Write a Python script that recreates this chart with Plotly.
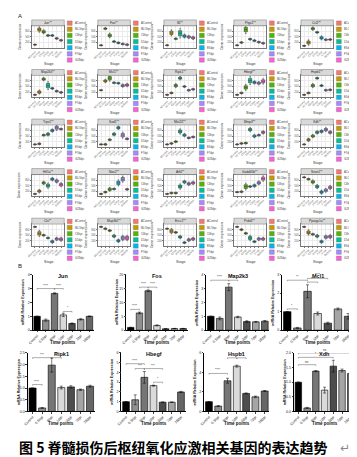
import plotly.graph_objects as go

# ---------------- data ----------------
stages = ["AControl", "B0.5hpi", "C6hpi", "D1dpi", "E3dpi", "F7dpi", "G28dpi"]
stage_colors = ["#F8766D", "#C49A00", "#53B400", "#00C094", "#00B6EB", "#A58AFF", "#FB61D7"]

genes_a = ["Jun**", "Fos**", "Il6**", "Ptgs2**", "Ccl2**",
           "Map2k3**", "Mcl1**", "Ripk1**", "Hbegf**", "Hspb1**",
           "Trpv1**", "Sod1**", "Nfe2l2**", "Mmp3**", "Xdh**",
           "Hif1a**", "Nos2**", "Atf4**", "Gadd45b**", "Sesn1**",
           "Clu**", "Map3k5**", "Ercc2**", "Prdx6**", "Ppargc1a**"]

med_a = [
    [0.08, 0.90, 0.78, 0.58, 0.58, 0.42, 0.32],
    [0.05, 0.95, 0.58, 0.25, 0.18, 0.12, 0.08],
    [0.05, 0.72, 0.40, 0.70, 0.55, 0.50, 0.45],
    [0.05, 0.20, 0.90, 0.38, 0.30, 0.22, 0.16],
    [0.02, 0.20, 0.95, 0.75, 0.45, 0.35, 0.36],
    [0.05, 0.20, 0.90, 0.55, 0.40, 0.25, 0.18],
    [0.30, 0.80, 0.95, 0.70, 0.68, 0.55, 0.58],
    [0.05, 0.15, 0.55, 0.95, 0.50, 0.30, 0.35],
    [0.05, 0.15, 0.45, 0.82, 0.72, 0.68, 0.78],
    [0.05, 0.15, 0.55, 0.95, 0.55, 0.30, 0.32],
    [0.05, 0.08, 0.55, 0.60, 0.80, 0.95, 0.88],
    [0.05, 0.05, 0.30, 0.60, 0.95, 0.55, 0.35],
    [0.05, 0.10, 0.20, 0.75, 0.55, 0.40, 0.45],
    [0.05, 0.10, 0.12, 0.85, 0.50, 0.55, 0.70],
    [0.05, 0.30, 0.50, 0.70, 0.75, 0.85, 0.70],
    [0.05, 0.20, 0.65, 0.50, 0.85, 0.75, 0.55],
    [0.05, 0.15, 0.30, 0.32, 0.65, 0.85, 0.30],
    [0.05, 0.10, 0.10, 0.45, 0.70, 0.60, 0.65],
    [0.15, 0.17, 0.45, 0.45, 0.50, 0.65, 0.88],
    [0.95, 0.85, 0.70, 0.45, 0.15, 0.25, 0.40],
    [0.95, 0.60, 0.50, 0.35, 0.15, 0.30, 0.28],
    [0.95, 0.85, 0.75, 0.45, 0.20, 0.35, 0.35],
    [0.85, 0.72, 0.65, 0.40, 0.10, 0.25, 0.30],
    [0.95, 0.80, 0.60, 0.35, 0.15, 0.30, 0.30],
    [0.95, 0.65, 0.55, 0.45, 0.15, 0.40, 0.42],
]
iqr_a = [
    [0.02, 0.08, 0.06, 0.03, 0.03, 0.03, 0.03],
    [0.02, 0.03, 0.07, 0.03, 0.03, 0.03, 0.03],
    [0.02, 0.09, 0.03, 0.14, 0.06, 0.05, 0.05],
    [0.02, 0.03, 0.12, 0.03, 0.03, 0.03, 0.03],
    [0.02, 0.08, 0.05, 0.03, 0.06, 0.03, 0.03],
    [0.02, 0.06, 0.05, 0.12, 0.03, 0.03, 0.03],
    [0.02, 0.05, 0.09, 0.03, 0.03, 0.05, 0.05],
    [0.02, 0.03, 0.06, 0.05, 0.03, 0.03, 0.03],
    [0.02, 0.03, 0.09, 0.12, 0.05, 0.05, 0.08],
    [0.02, 0.03, 0.06, 0.03, 0.03, 0.03, 0.03],
    [0.02, 0.03, 0.03, 0.05, 0.05, 0.08, 0.03],
    [0.02, 0.03, 0.03, 0.05, 0.05, 0.09, 0.03],
    [0.02, 0.03, 0.03, 0.08, 0.05, 0.03, 0.03],
    [0.02, 0.03, 0.03, 0.06, 0.05, 0.03, 0.05],
    [0.02, 0.05, 0.05, 0.05, 0.05, 0.06, 0.05],
    [0.02, 0.05, 0.05, 0.08, 0.05, 0.06, 0.06],
    [0.02, 0.03, 0.06, 0.03, 0.09, 0.09, 0.03],
    [0.02, 0.03, 0.03, 0.08, 0.05, 0.05, 0.05],
    [0.02, 0.03, 0.10, 0.03, 0.05, 0.06, 0.08],
    [0.02, 0.03, 0.06, 0.06, 0.06, 0.06, 0.06],
    [0.02, 0.09, 0.03, 0.03, 0.05, 0.05, 0.06],
    [0.02, 0.03, 0.03, 0.05, 0.05, 0.08, 0.08],
    [0.02, 0.08, 0.03, 0.05, 0.03, 0.05, 0.05],
    [0.02, 0.03, 0.03, 0.08, 0.03, 0.05, 0.05],
    [0.02, 0.08, 0.03, 0.05, 0.05, 0.06, 0.06],
]

time_points = ["Control", "0.5hpi", "6hpi", "1dpi", "3dpi", "7dpi", "28dpi"]
bar_colors = ["#000000", "#8f8f8f", "#767676", "#dadada", "#4d4d4d", "#a5a5a5", "#666666"]
genes_b = ["Jun", "Fos", "Map2k3", "Mcl1", "Ripk1", "Hbegf", "Hspb1", "Xdh"]
vals_b = [
    [1.0, 0.72, 2.65, 1.10, 0.48, 0.78, 1.00],
    [1.0, 6.20, 14.2, 1.70, 0.50, 0.60, 0.60],
    [1.0, 0.85, 3.10, 0.95, 0.62, 0.60, 0.65],
    [1.0, 0.12, 2.10, 0.90, 0.38, 1.15, 0.75],
    [1.0, 0.15, 1.98, 1.02, 1.05, 0.93, 1.08],
    [1.0, 1.20, 3.50, 2.65, 0.95, 0.95, 2.00],
    [1.0, 0.55, 3.15, 4.65, 1.85, 1.50, 2.10],
    [1.0, 0.12, 1.38, 0.73, 1.55, 1.40, 1.30],
]
errs_b = [
    [0.0, 0.08, 0.04, 0.12, 0.04, 0.05, 0.02],
    [0.0, 0.30, 0.30, 0.20, 0.05, 0.05, 0.05],
    [0.0, 0.10, 0.25, 0.05, 0.06, 0.03, 0.05],
    [0.0, 0.03, 0.35, 0.08, 0.05, 0.05, 0.15],
    [0.0, 0.02, 0.30, 0.06, 0.05, 0.03, 0.04],
    [0.0, 0.50, 0.60, 0.05, 0.03, 0.03, 0.06],
    [0.0, 0.05, 0.25, 0.10, 0.05, 0.08, 0.05],
    [0.0, 0.02, 0.02, 0.10, 0.20, 0.05, 0.12],
]
ymax_b = [4, 20, 4, 3, 2.5, 6, 6, 2.0]
dtick_b = [1, 5, 1, 1, 0.5, 1, 2, 0.5]
# significance brackets: (from index, to index, height, label)
sig_b = [
    [(0, 2, 3.0, "****"), (2, 3, 3.0, "****"), (3, 4, 1.35, "*")],
    [(0, 1, 7.5, "****"), (1, 2, 15.5, "****"), (2, 3, 15.5, "****")],
    [(0, 2, 3.6, "****"), (2, 3, 3.6, "****")],
    [(0, 1, 1.15, "*"), (0, 2, 2.7, "**"), (2, 3, 2.6, "**"), (2, 4, 2.8, "****")],
    [(0, 1, 1.15, "****"), (0, 2, 2.3, "***"), (2, 3, 2.3, "**")],
    [(0, 2, 4.9, "****"), (1, 2, 4.4, "***"), (2, 4, 4.4, "***"), (3, 4, 3.0, "*")],
    [(0, 2, 3.9, "****"), (2, 3, 5.5, "**"), (3, 4, 5.5, "****")],
    [(0, 6, 2.0, "ns"), (0, 4, 1.85, "*"), (0, 2, 1.6, "ns")],
]

# ---------------- geometry ----------------
W, H = 357, 457


def px(x):
    return x / W


def py(y):
    return 1 - y / H


FONT = "Liberation Sans"
fig = go.Figure()
layout = {}
shapes = []
annotations = []

col_x = [19, 86, 153, 224, 292]
row_y = [10, 60, 110, 160, 210]
pw = 33
n = 0
for r in range(5):
    for c in range(5):
        k = r * 5 + c
        n += 1
        sfx = "" if n == 1 else str(n)
        x0 = col_x[c]
        x1 = x0 + pw
        st = row_y[r]
        y_top = st + 6
        y_bot = st + 28
        for s in range(7):
            m = med_a[k][s]
            q = iqr_a[k][s]
            fig.add_trace(go.Box(
                x=[stages[s]], q1=[m - q], median=[m], q3=[m + q],
                lowerfence=[m - 1.8 * q], upperfence=[m + 1.8 * q],
                xaxis="x" + sfx, yaxis="y" + sfx, fillcolor=stage_colors[s],
                line=dict(color="#333333", width=0.5), width=0.75,
                showlegend=False, boxpoints=False, hoverinfo="skip"))
        layout["xaxis" + sfx] = dict(
            domain=[px(x0), px(x1)], anchor="y" + sfx, type="category",
            categoryorder="array", categoryarray=stages,
            tickangle=-45, tickfont=dict(size=2.6, color="#555"),
            showgrid=True, gridcolor="#EBEBEB", gridwidth=0.5,
            showline=True, linecolor="#777", linewidth=0.5, mirror=True,
            ticks="outside", ticklen=1, tickcolor="#777", zeroline=False,
            fixedrange=True)
        layout["yaxis" + sfx] = dict(
            domain=[py(y_bot), py(y_top)], anchor="x" + sfx, range=[-0.08, 1.1],
            tickvals=[0.2, 0.5, 0.8], ticktext=["200", "500", "800"],
            tickfont=dict(size=2.6, color="#555"),
            showgrid=True, gridcolor="#EBEBEB", gridwidth=0.5,
            showline=True, linecolor="#777", linewidth=0.5, mirror=True,
            ticks="outside", ticklen=1, tickcolor="#777", zeroline=False,
            fixedrange=True)
        # strip
        shapes.append(dict(type="rect", xref="paper", yref="paper",
                           x0=px(x0), x1=px(x1), y0=py(st + 6), y1=py(st),
                           fillcolor="#D9D9D9", line=dict(color="#555", width=0.4)))
        annotations.append(dict(text=genes_a[k], xref="paper", yref="paper",
                                x=px((x0 + x1) / 2), y=py(st + 3), showarrow=False,
                                font=dict(size=3.2, color="#222", family=FONT),
                                xanchor="center", yanchor="middle"))
        # legend
        for s in range(7):
            ly = st + 1 + 6.2 * s
            shapes.append(dict(type="rect", xref="paper", yref="paper",
                               x0=px(x1 + 3), x1=px(x1 + 8), y0=py(ly + 4.5), y1=py(ly),
                               fillcolor=stage_colors[s], line=dict(color="#666", width=0.3)))
            annotations.append(dict(text=stages[s], xref="paper", yref="paper",
                                    x=px(x1 + 9), y=py(ly + 2.3), showarrow=False,
                                    font=dict(size=2.8, color="#444", family=FONT),
                                    xanchor="left", yanchor="middle"))
        annotations.append(dict(text="Stage", xref="paper", yref="paper",
                                x=px((x0 + x1) / 2), y=py(st + 44), showarrow=False,
                                font=dict(size=3.6, color="#333", family=FONT),
                                xanchor="center", yanchor="middle"))
        annotations.append(dict(text="Gene expression", xref="paper", yref="paper",
                                x=px(x0 - 12), y=py((y_top + y_bot) / 2), showarrow=False,
                                textangle=-90,
                                font=dict(size=3.4, color="#333", family=FONT),
                                xanchor="center", yanchor="middle"))

annotations.append(dict(text="A", xref="paper", yref="paper", x=px(3), y=py(6),
                        showarrow=False, font=dict(size=6, color="#222", family=FONT),
                        xanchor="left", yanchor="middle"))
annotations.append(dict(text="B", xref="paper", yref="paper", x=px(3), y=py(258),
                        showarrow=False, font=dict(size=6, color="#222", family=FONT),
                        xanchor="left", yanchor="middle"))

# ---------------- panel B ----------------
b_x = [(20, 82), (115, 177), (196, 260), (273, 345),
       (15, 83), (110, 175), (194, 260), (285, 347)]
b_y = [(267, 323)] * 4 + [(346, 405)] * 4

for g in range(8):
    n += 1
    sfx = str(n)
    x0, x1 = b_x[g]
    y0, y1 = b_y[g]
    fig.add_trace(go.Bar(
        x=time_points, y=vals_b[g], xaxis="x" + sfx, yaxis="y" + sfx,
        marker=dict(color=bar_colors, line=dict(color="#000", width=0.6)),
        error_y=dict(type="data", array=errs_b[g], thickness=0.5, width=1.5, color="#000"),
        width=0.74, showlegend=False, hoverinfo="skip"))
    layout["xaxis" + sfx] = dict(
        domain=[px(x0), px(x1)], anchor="y" + sfx, type="category",
        tickangle=-45, tickfont=dict(size=3.6, color="#222", family=FONT),
        showline=True, linecolor="#000", linewidth=0.6, ticks="outside",
        ticklen=1.5, tickwidth=0.5, showgrid=False, fixedrange=True)
    layout["yaxis" + sfx] = dict(
        domain=[py(y1), py(y0)], anchor="x" + sfx, range=[0, ymax_b[g]],
        dtick=dtick_b[g], tickformat=".1f" if dtick_b[g] < 1 else "d",
        tickfont=dict(size=3.6, color="#222", family=FONT),
        showline=True, linecolor="#000", linewidth=0.6, ticks="outside",
        ticklen=1.5, tickwidth=0.5, showgrid=False, zeroline=False, fixedrange=True)
    annotations.append(dict(text="<b>" + genes_b[g] + "</b>", xref="paper", yref="paper",
                            x=px((x0 + x1) / 2), y=py(y0 + 1), showarrow=False,
                            font=dict(size=5.5, color="#111", family=FONT),
                            xanchor="center", yanchor="middle"))
    annotations.append(dict(text="<b>mRNA Relative Expression</b>", xref="paper", yref="paper",
                            x=px(x0 - 9), y=py((y0 + y1) / 2), showarrow=False, textangle=-90,
                            font=dict(size=3.6, color="#111", family=FONT),
                            xanchor="center", yanchor="middle"))
    annotations.append(dict(text="<b>Time points</b>", xref="paper", yref="paper",
                            x=px((x0 + x1) / 2), y=py(y1 + 12), showarrow=False,
                            font=dict(size=4.5, color="#111", family=FONT),
                            xanchor="center", yanchor="middle"))
    for (i, j, hgt, lab) in sig_b[g]:
        tick = ymax_b[g] * 0.02
        shapes.append(dict(type="path", xref="x" + sfx, yref="y" + sfx,
                           path=f"M {i},{hgt - tick} L {i},{hgt} L {j},{hgt} L {j},{hgt - tick}",
                           line=dict(color="#333", width=0.4)))
        annotations.append(dict(text=lab, xref="x" + sfx, yref="y" + sfx,
                                x=(i + j) / 2, y=hgt, showarrow=False,
                                font=dict(size=3.2, color="#333", family=FONT),
                                xanchor="center", yanchor="bottom", yshift=-1))

annotations.append(dict(text="<b>图 5 脊髓损伤后枢纽氧化应激相关基因的表达趋势</b>",
                        xref="paper", yref="paper", x=px(4), y=py(441), showarrow=False,
                        font=dict(size=14, color="#000", family="Noto Sans CJK SC"),
                        xanchor="left", yanchor="middle"))
annotations.append(dict(text="↵", xref="paper", yref="paper", x=px(330), y=py(442),
                        showarrow=False, font=dict(size=12, color="#888", family="DejaVu Sans"),
                        xanchor="left", yanchor="middle"))
annotations.append(dict(text="↵", xref="paper", yref="paper", x=px(347), y=py(420),
                        showarrow=False, font=dict(size=8, color="#888", family="DejaVu Sans"),
                        xanchor="left", yanchor="middle"))

fig.update_layout(**layout)
fig.update_layout(width=W, height=H, margin=dict(l=0, r=0, t=0, b=0),
                  paper_bgcolor="white", plot_bgcolor="white",
                  shapes=shapes, annotations=annotations, showlegend=False,
                  font=dict(family=FONT), boxmode="overlay")
fig.write_html("out.html", config={"displayModeBar": False})
